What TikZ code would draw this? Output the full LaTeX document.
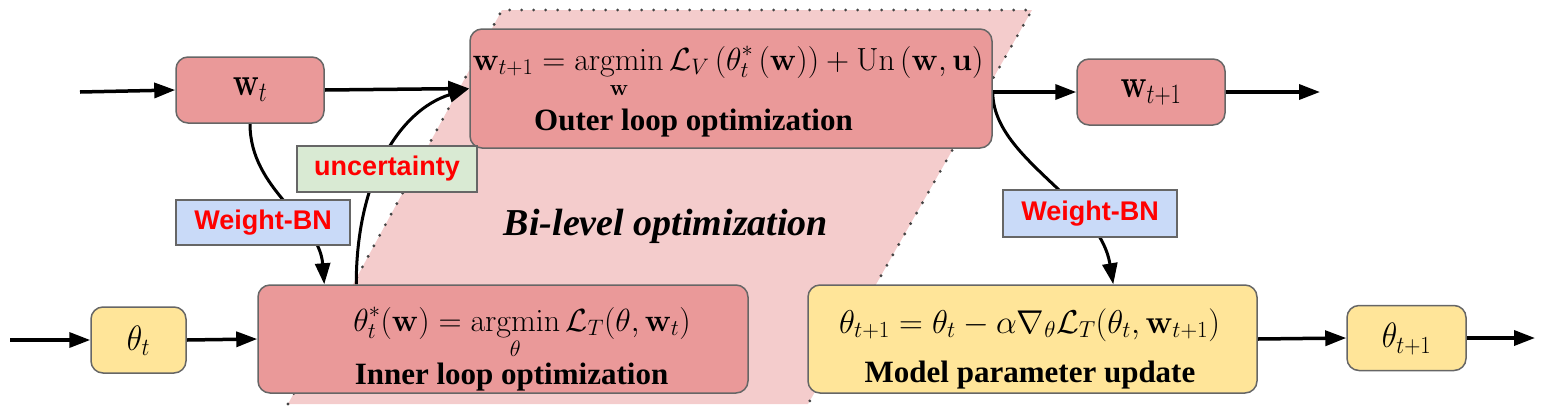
\RequirePackage{fix-cm}
\documentclass[tikz,border=0pt]{standalone}
\usepackage{amsmath}
\usepackage[no-math]{fontspec}
\setmainfont{Liberation Serif}
\newfontfamily\labelfont{Liberation Sans}
\usetikzlibrary{arrows.meta}
\definecolor{boxred}{HTML}{EA9999}
\definecolor{bgpink}{HTML}{F4CCCC}
\definecolor{boxyellow}{HTML}{FFE599}
\definecolor{boxblue}{HTML}{C9DAF8}
\definecolor{boxgreen}{HTML}{D9EAD3}
\definecolor{edgegray}{HTML}{666666}
\definecolor{dotgray}{HTML}{444444}
\pgfdeclarelayer{bgshape}
\pgfdeclarelayer{bgline}
\pgfsetlayers{bgshape,bgline,main}
\begin{document}
\begin{tikzpicture}[x=1pt,y=-1pt,
  box/.style={draw=edgegray, line width=1.5pt, rounded corners=12pt, inner sep=0pt},
  redbox/.style={box, fill=boxred},
  yellowbox/.style={box, fill=boxyellow},
  tagbox/.style={draw=edgegray, line width=1.5pt, inner sep=0pt},
  tagtext/.style={font=\labelfont\bfseries\fontsize{27}{32}\selectfont, text=red, inner sep=0pt},
  mathtxt/.style={font=\fontsize{32}{38}\selectfont, inner sep=0pt},
  boldtxt/.style={font=\bfseries\fontsize{31}{36}\selectfont, inner sep=0pt},
  conn/.style={line width=3.5pt, -{Triangle[length=21pt,width=15pt]}},
  curve/.style={line width=3pt, -{Triangle[length=21pt,width=15pt]}}
]
\useasboundingbox (0,0) rectangle (1550,416);

% boxes
\node[redbox, minimum width=148pt, minimum height=66pt] (wt) at (250,90) {};
\node[redbox, minimum width=522pt, minimum height=119pt] (outer) at (731,88.5) {};
\node[redbox, minimum width=148pt, minimum height=66pt] (wt1) at (1151,92) {};
\node[yellowbox, minimum width=95pt, minimum height=66pt] (thetat) at (138.5,340) {};
\node[redbox, minimum width=490pt, minimum height=108pt] (inner) at (503,339) {};
\node[yellowbox, minimum width=449pt, minimum height=108pt] (model) at (1032.5,339) {};
\node[yellowbox, minimum width=119pt, minimum height=65pt] (theta1) at (1406.5,338) {};
\node[tagbox, fill=boxgreen, minimum width=180pt, minimum height=46pt] (unc) at (387,169) {};
\node[tagbox, fill=boxblue, minimum width=174pt, minimum height=45pt] (wbnl) at (263,222.5) {};
\node[tagbox, fill=boxblue, minimum width=174pt, minimum height=47pt] (wbnr) at (1090,213.5) {};

% texts
\node[mathtxt] (wtlabel) at (250,90) {\scalebox{1}[1.25]{$\mathbf{w}_t$}};
\node[mathtxt] (wt1label) at (1151,92) {\scalebox{1}[1.25]{$\mathbf{w}_{t+1}$}};
\node[mathtxt] (thetatlabel) at (138.5,341) {\scalebox{1}[1.1]{$\theta_t$}};
\node[mathtxt] (theta1label) at (1406.5,339) {\scalebox{1}[1.1]{$\theta_{t+1}$}};
\node[mathtxt, anchor=base] (outermath) at (728,70)
  {$\displaystyle \mathbf{w}_{t+1} = \operatorname*{argmin}_{\mathbf{w}\vphantom{I}} \mathcal{L}_V\left(\theta^*_t\left(\mathbf{w}\right)\right) + \mathrm{Un}\left(\mathbf{w},\mathbf{u}\right)$};
\node[boldtxt, anchor=base] (outertext) at (693.5,130) {Outer loop optimization};
\node[mathtxt, anchor=base] (innermath) at (522,331)
  {$\displaystyle \theta^*_t(\mathbf{w}) = \operatorname*{argmin}_{\theta} \mathcal{L}_T(\theta,\mathbf{w}_t)$};
\node[boldtxt, anchor=base] (innertext) at (511.5,384) {Inner loop optimization};
\node[mathtxt, font=\fontsize{33}{38}\selectfont, anchor=base] (modelmath) at (1029.5,333)
  {$\theta_{t+1} = \theta_t - \alpha\nabla_\theta\mathcal{L}_T(\theta_t,\mathbf{w}_{t+1})$};
\node[boldtxt, anchor=base] (modeltext) at (1030,382) {Model parameter update};
\node[tagtext] (unctext) at (387,169) {uncertainty};
\node[tagtext] (wbnltext) at (263,222.5) {Weight-BN};
\node[tagtext] (wbnrtext) at (1090,213.5) {Weight-BN};
\node[font=\bfseries\itshape\fontsize{38}{44}\selectfont, inner sep=0pt, anchor=base] (bilevel) at (666,235) {Bi-level optimization};

% free ends
\coordinate (inw) at (80,92);
\coordinate (outw) at (1320,92);
\coordinate (inth) at (10,340);
\coordinate (outth) at (1535,338);

\begin{pgfonlayer}{bgshape}
  \fill[bgpink] (288,404) -- (502,10) -- (1032,10) -- (808,404) -- cycle;
  \draw[dotgray, line width=3.2pt, line cap=round, dash pattern=on 0pt off 12pt] (288,404) -- (502,10) -- (1032,10) -- (808,404);
\end{pgfonlayer}

\begin{pgfonlayer}{bgline}
  \draw[conn] (inw) -- (wt.west);
  \draw[conn] (wt.east) -- (outer.west);
  \draw[conn] (outer.east |- wt1.west) -- (wt1.west);
  \draw[conn] (wt1.east) -- (outw);
  \draw[conn] (inth) -- (thetat.west);
  \draw[conn] (thetat.east) -- (inner.west);
  \draw[conn] (model.east) -- (theta1.west);
  \draw[conn] (theta1.east) -- (outth);
  \draw[curve] (wt.south) .. controls +(0,67) and +(-5,-65) .. ([xshift=67pt]inner.north west);
  \draw[curve] ([xshift=99pt]inner.north west) .. controls +(0,-105) and +(-70,22) .. (outer.west);
  \draw[curve] (outer.east |- wt1.west) .. controls +(0,67) and +(-14,-85) .. ([xshift=306pt]model.north west);
\end{pgfonlayer}
\end{tikzpicture}
\end{document}
